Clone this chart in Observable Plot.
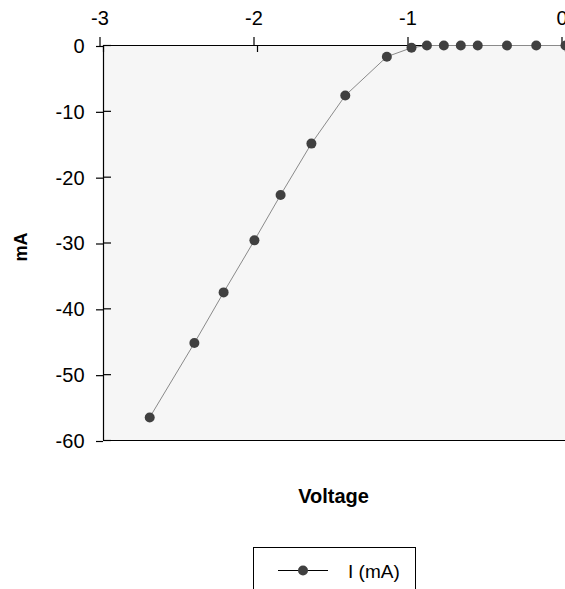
<!DOCTYPE html>
<html>
<head>
<meta charset="utf-8">
<script src="https://cdn.jsdelivr.net/npm/d3@7"></script>
<script src="https://cdn.jsdelivr.net/npm/@observablehq/plot@0.6"></script>
<style>
  html, body { margin: 0; padding: 0; background: #fff; width: 565px; height: 589px; overflow: hidden; }
  #wrap { position: relative; width: 565px; height: 589px; font-family: "Liberation Sans", Arial, sans-serif; }
  #legend { position: absolute; left: 253px; top: 547px; width: 163px; height: 50px; border: 1px solid #000; box-sizing: border-box; background: #fff; }
</style>
</head>
<body>
<div id="wrap"></div>
<script>
// Data
const voltage = [-2.70, -2.41, -2.22, -2.02, -1.85, -1.65, -1.43, -1.16, -1.00, -0.90, -0.79, -0.68, -0.57, -0.38, -0.19, 0.00];
const current = [-56.5, -45.2, -37.5, -29.6, -22.7, -14.9, -7.6, -1.7, -0.35, 0, 0, 0, 0, 0, 0, 0];
const xTicks = [-3, -2, -1, 0];
const yTicks = [0, -10, -20, -30, -40, -50, -60];
const seriesName = "I (mA)";
const xLabel = "Voltage";
const yLabel = "mA";

const data = voltage.map((v, i) => ({v, i: current[i]}));
const fmt = d => String(d);

const chart = Plot.plot({
  width: 565,
  height: 520,
  marginTop: 45,
  marginLeft: 103,
  marginRight: 0,
  marginBottom: 80,
  style: {fontFamily: "'Liberation Sans', Arial, sans-serif", fontSize: "20px", color: "#000", background: "#fff", overflow: "visible"},
  x: {domain: [-3, 0], label: null},
  y: {domain: [-60, 0], label: null},
  marks: [
    Plot.frame({fill: "#f6f6f6", stroke: null}),
    Plot.ruleY([0], {stroke: "#000", strokeWidth: 1.2}),
    Plot.ruleY([-60], {stroke: "#000", strokeWidth: 1.2}),
    Plot.ruleX([-3], {stroke: "#000", strokeWidth: 1.2}),
    Plot.axisX(xTicks, {anchor: "top", tickSize: 9, tickPadding: 12, dx: -3.5, tickFormat: fmt, fontSize: 20, stroke: "#000", strokeWidth: 1.2, label: null}),
    Plot.axisX(xTicks, {anchor: "top", tickSize: -6, tickFormat: () => "", stroke: "#000", strokeWidth: 1.2, label: null}),
    Plot.axisY(yTicks, {anchor: "left", tickSize: 7, tickPadding: 12, dy: 1, tickFormat: fmt, fontSize: 20, stroke: "#000", strokeWidth: 1.2, label: null}),
    Plot.axisY(yTicks, {anchor: "left", tickSize: -8, tickFormat: () => "", stroke: "#000", strokeWidth: 1.2, label: null}),
    Plot.line(data, {x: "v", y: "i", stroke: "#8a8a8a", strokeWidth: 1}),
    Plot.dot(data, {x: "v", y: "i", r: 5, fill: "#404040", stroke: null}),
    Plot.text([xLabel], {frameAnchor: "bottom", dx: -1, dy: 62, text: d => d, fontWeight: "bold", fontSize: 20, fill: "#000"}),
    Plot.text([yLabel], {frameAnchor: "left", textAnchor: "middle", dx: -82, dy: 4, rotate: -90, text: d => d, fontWeight: "bold", fontSize: 18, fill: "#000"})
  ]
});

const wrap = document.getElementById("wrap");
wrap.appendChild(chart);

const legend = document.createElement("div");
legend.id = "legend";
legend.innerHTML = `<svg width="163" height="50" style="position:absolute;left:0;top:0;overflow:visible">
  <line x1="24" x2="74" y1="22.5" y2="22.5" stroke="#000" stroke-width="1"/>
  <circle cx="49" cy="22.5" r="5" fill="#404040"/>
  <text x="94" y="30" font-family="'Liberation Sans', Arial, sans-serif" font-size="19" fill="#000">${seriesName}</text>
</svg>`;
wrap.appendChild(legend);
</script>
</body>
</html>
